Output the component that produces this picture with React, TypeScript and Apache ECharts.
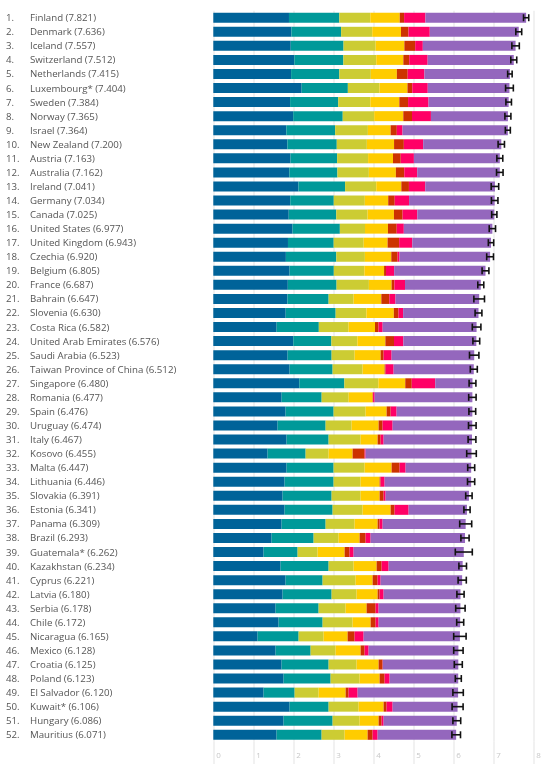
import React, { useEffect, useRef } from "react";
import * as echarts from "echarts";

const countries = ["Finland","Denmark","Iceland","Switzerland","Netherlands","Luxembourg*","Sweden","Norway","Israel","New Zealand","Austria","Australia","Ireland","Germany","Canada","United States","United Kingdom","Czechia","Belgium","France","Bahrain","Slovenia","Costa Rica","United Arab Emirates","Saudi Arabia","Taiwan Province of China","Singapore","Romania","Spain","Uruguay","Italy","Kosovo","Malta","Lithuania","Slovakia","Estonia","Panama","Brazil","Guatemala*","Kazakhstan","Cyprus","Latvia","Serbia","Chile","Nicaragua","Mexico","Croatia","Poland","El Salvador","Kuwait*","Hungary","Mauritius"];
const scores = [7.821,7.636,7.557,7.512,7.415,7.404,7.384,7.365,7.364,7.200,7.163,7.162,7.041,7.034,7.025,6.977,6.943,6.920,6.805,6.687,6.647,6.630,6.582,6.576,6.523,6.512,6.480,6.477,6.476,6.474,6.467,6.455,6.447,6.446,6.391,6.341,6.309,6.293,6.262,6.234,6.221,6.180,6.178,6.172,6.165,6.128,6.125,6.123,6.120,6.106,6.086,6.071];
const gdp = [1.892,1.953,1.936,2.026,1.945,2.209,1.920,1.997,1.826,1.852,1.931,1.900,2.129,1.924,1.886,1.982,1.867,1.815,1.907,1.863,1.854,1.810,1.584,2.000,1.858,1.908,2.149,1.709,1.808,1.608,1.833,1.358,1.833,1.783,1.733,1.783,1.708,1.458,1.258,1.683,1.808,1.733,1.558,1.633,1.108,1.558,1.708,1.758,1.258,1.908,1.758,1.583];
const social = [1.258,1.243,1.320,1.226,1.206,1.155,1.204,1.239,1.221,1.235,1.165,1.203,1.166,1.088,1.188,1.182,1.143,1.260,1.106,1.219,1.029,1.249,1.054,0.952,1.100,1.075,1.127,1.000,1.200,1.200,1.050,0.950,1.175,1.225,1.225,1.200,1.100,1.050,0.850,1.200,0.925,1.225,1.075,1.100,1.025,0.875,1.175,1.175,0.775,0.975,1.225,1.125];
const health = [0.775,0.777,0.803,0.822,0.787,0.790,0.803,0.786,0.818,0.752,0.774,0.786,0.779,0.776,0.783,0.628,0.750,0.715,0.764,0.808,0.625,0.769,0.744,0.650,0.575,0.750,0.851,0.675,0.800,0.650,0.800,0.575,0.775,0.675,0.725,0.750,0.725,0.625,0.500,0.625,0.825,0.625,0.675,0.750,0.625,0.625,0.700,0.725,0.600,0.750,0.675,0.575];
const freedom = [0.736,0.719,0.718,0.677,0.651,0.700,0.724,0.728,0.568,0.680,0.623,0.675,0.627,0.585,0.659,0.574,0.597,0.660,0.492,0.567,0.693,0.685,0.661,0.700,0.650,0.550,0.672,0.600,0.525,0.675,0.425,0.600,0.675,0.475,0.475,0.700,0.575,0.525,0.675,0.575,0.425,0.525,0.525,0.450,0.600,0.625,0.550,0.500,0.675,0.625,0.475,0.575];
const generosity = [0.109,0.188,0.270,0.147,0.271,0.120,0.218,0.217,0.155,0.245,0.193,0.210,0.190,0.163,0.217,0.220,0.289,0.158,0.049,0.070,0.199,0.118,0.089,0.215,0.075,0.025,0.163,0.010,0.100,0.100,0.075,0.300,0.200,0.025,0.100,0.100,0.050,0.150,0.125,0.125,0.125,0.050,0.225,0.125,0.175,0.100,0.100,0.125,0.075,0.075,0.075,0.125];
const corruption = [0.534,0.532,0.191,0.461,0.419,0.388,0.512,0.474,0.143,0.483,0.329,0.324,0.408,0.358,0.368,0.177,0.329,0.048,0.204,0.266,0.155,0.115,0.102,0.235,0.200,0.200,0.587,0.040,0.150,0.250,0.075,0.025,0.150,0.100,0.050,0.350,0.075,0.125,0.100,0.175,0.075,0.100,0.075,0.075,0.225,0.100,0.005,0.125,0.225,0.150,0.050,0.125];
const dystopia = [2.517,2.224,2.319,2.153,2.136,2.042,2.003,1.924,2.633,1.953,2.148,2.064,1.742,2.140,1.924,2.214,1.968,2.264,2.283,1.894,2.092,1.884,2.348,1.824,2.065,2.004,0.931,2.443,1.893,1.991,2.209,2.647,1.639,2.163,2.083,1.458,2.076,2.360,2.754,1.851,2.038,1.922,2.045,2.039,2.407,2.245,1.887,1.715,2.512,1.623,1.828,1.963];
const whiskerLow = [7.756,7.563,7.464,7.437,7.359,7.307,7.315,7.290,7.301,7.120,7.089,7.081,6.947,6.953,6.960,6.898,6.876,6.835,6.720,6.612,6.514,6.545,6.475,6.490,6.405,6.425,6.395,6.385,6.390,6.380,6.370,6.335,6.360,6.355,6.310,6.265,6.160,6.190,6.050,6.140,6.120,6.090,6.060,6.085,6.010,6.010,6.025,6.050,5.990,5.970,5.990,5.965];
const whiskerHigh = [7.886,7.710,7.650,7.586,7.471,7.501,7.454,7.440,7.426,7.279,7.237,7.244,7.135,7.116,7.090,7.056,7.010,7.005,6.890,6.762,6.780,6.715,6.690,6.660,6.640,6.600,6.565,6.570,6.560,6.570,6.565,6.575,6.535,6.535,6.470,6.420,6.460,6.395,6.475,6.330,6.325,6.270,6.295,6.260,6.320,6.245,6.225,6.200,6.250,6.245,6.185,6.180];
const xTicks = [0, 1, 2, 3, 4, 5, 6, 7, 8];

const componentSeries = [
  { name: "GDP per capita", data: gdp, color: "#006399" },
  { name: "Social support", data: social, color: "#009999" },
  { name: "Healthy life expectancy", data: health, color: "#cccc33" },
  { name: "Freedom", data: freedom, color: "#ffcc00" },
  { name: "Generosity", data: generosity, color: "#cc3300" },
  { name: "Perceptions of corruption", data: corruption, color: "#ff0066" },
  { name: "Dystopia + residual", data: dystopia, color: "#9467bd" },
];

export default function App() {
  const ref = useRef<HTMLDivElement>(null);
  useEffect(() => {
    if (!ref.current) return;
    const chart = echarts.init(ref.current, null, { renderer: "svg" });
    const W = 558, H = 764;
    const left = 213.3;
    const unit = 40;
    const right = W - left - unit * (xTicks[xTicks.length - 1] - xTicks[0]);
    const top = 10.7;
    const band = 14.06;
    const gridH = band * countries.length;
    const bottom1 = H - top - gridH;
    const font = "'Open Sans', sans-serif";
    const fs = 9.7;

    const splitLine = { show: true, lineStyle: { color: "#ececec", width: 1.5 } };

    const option: any = {
      animation: false,
      textStyle: { fontFamily: font },
      grid: [
        { left, right, top, bottom: bottom1 },
        { left, right, top: top + gridH, bottom: 0 },
      ],
      xAxis: [
        {
          gridIndex: 0, type: "value", min: xTicks[0], max: xTicks[xTicks.length - 1], interval: 1,
          axisLabel: { show: false }, axisLine: { show: false }, axisTick: { show: false },
          splitLine,
        },
        {
          gridIndex: 1, type: "value", min: xTicks[0], max: xTicks[xTicks.length - 1], interval: 1,
          position: "top",
          axisLine: { show: false }, axisTick: { show: false },
          splitLine,
          axisLabel: {
            inside: true, margin: 9, color: "#c8c8c8", fontSize: 8, fontFamily: font,
            align: "left", padding: [0, 0, 0, 3], verticalAlign: "top",
          },
        },
      ],
      yAxis: [
        {
          gridIndex: 0, type: "category", data: countries, inverse: true,
          axisLine: { show: false }, axisTick: { show: false }, splitLine: { show: false },
          axisLabel: {
            align: "left", margin: left - 6, color: "#555", fontFamily: font, fontSize: fs,
            formatter: (v: string, i: number) => `{r|${i + 1}.}{n|${v} (${scores[i].toFixed(3)})}`,
            rich: {
              r: { width: 24, color: "#555", fontSize: fs, fontFamily: font },
              n: { color: "#555", fontSize: fs, fontFamily: font },
            },
          },
        },
        { gridIndex: 1, type: "value", show: false, min: 0, max: 1 },
      ],
      series: [
        ...componentSeries.map((s) => ({
          type: "bar", name: s.name, stack: "total", data: s.data, barWidth: 10,
          itemStyle: { color: s.color }, xAxisIndex: 0, yAxisIndex: 0,
          emphasis: { disabled: true },
        })),
        {
          type: "custom", name: "whiskers", xAxisIndex: 0, yAxisIndex: 0,
          data: countries.map((c, i) => [whiskerLow[i], whiskerHigh[i], i]),
          encode: { x: [0, 1], y: 2 },
          z: 10,
          renderItem: (params: any, api: any) => {
            const lo = api.coord([api.value(0), api.value(2)]);
            const hi = api.coord([api.value(1), api.value(2)]);
            const h = 3.5;
            const st = { stroke: "#111", lineWidth: 1.6 };
            return {
              type: "group",
              children: [
                { type: "line", shape: { x1: lo[0], y1: lo[1], x2: hi[0], y2: hi[1] }, style: st },
                { type: "line", shape: { x1: lo[0], y1: lo[1] - h, x2: lo[0], y2: lo[1] + h }, style: st },
                { type: "line", shape: { x1: hi[0], y1: hi[1] - h, x2: hi[0], y2: hi[1] + h }, style: st },
              ],
            };
          },
        },
      ],
    };
    chart.setOption(option);
    return () => chart.dispose();
  }, []);
  return <div ref={ref} style={{ position: "fixed", left: 0, top: 0, width: 558, height: 764 }} />;
}
